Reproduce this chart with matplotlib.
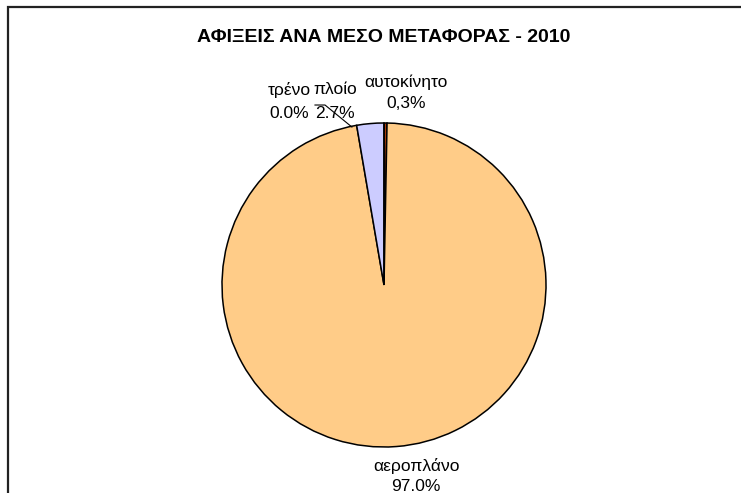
import matplotlib.pyplot as plt
from matplotlib.patches import Rectangle

plt.rcParams['font.family'] = ['Liberation Sans', 'DejaVu Sans']

# data (clockwise from 12 o'clock)
modes = ["αυτοκίνητο", "αεροπλάνο", "πλοίο", "τρένο"]
shares = [0.3, 97.0, 2.7, 0.0]
share_labels = ["0,3%", "97.0%", "2.7%", "0.0%"]
colors = ["#A83A08", "#FFCC88", "#CCCCFF", "#FFFFCC"]

title = "ΑΦΙΞΕΙΣ ΑΝΑ ΜΕΣΟ ΜΕΤΑΦΟΡΑΣ - 2010"

W, H = 741, 493
fig = plt.figure(figsize=(W / 100, H / 100), dpi=100)

# outer frame (right and bottom run off the picture)
fig.patches.append(Rectangle((8 / W, -0.1), 1.2, 1 - 7 / H + 0.1,
                             transform=fig.transFigure, fill=False,
                             edgecolor="#222222", linewidth=1.6))

cx, cy, r = 384, 285, 162
ax = fig.add_axes([(cx - r) / W, (H - cy - r) / H, 2 * r / W, 2 * r / H])
wedges, _ = ax.pie(shares, colors=colors, startangle=90, counterclock=False,
                   radius=1, wedgeprops=dict(edgecolor="black", linewidth=1.1))
ax.set_xlim(-1, 1)
ax.set_ylim(-1, 1)
ax.set_aspect("equal")
ax.axis("off")

fig.text(cx / W, 1 - 37 / H, title, ha="center", va="center",
         fontsize=14, fontweight="bold")

# data labels
pos = {
    "αυτοκίνητο": (0.136, 1.253, 1.123),
    "αεροπλάνο": (0.198, -1.115, -1.245),
    "πλοίο": (-0.302, 1.204, 1.056),
    "τρένο": (-0.586, 1.204, 1.056),
}
for m, lab in zip(modes, share_labels):
    x, y1, y2 = pos[m]
    ax.text(x, y1, m, ha="center", va="center", fontsize=12.5, clip_on=False)
    ax.text(x, y2, lab, ha="center", va="center", fontsize=12.5, clip_on=False)

# leader line
ax.plot([-0.426, -0.364, -0.198], [1.111, 1.111, 0.975], color="black",
        linewidth=0.8, clip_on=False)

fig.savefig("out.png", dpi=100)
